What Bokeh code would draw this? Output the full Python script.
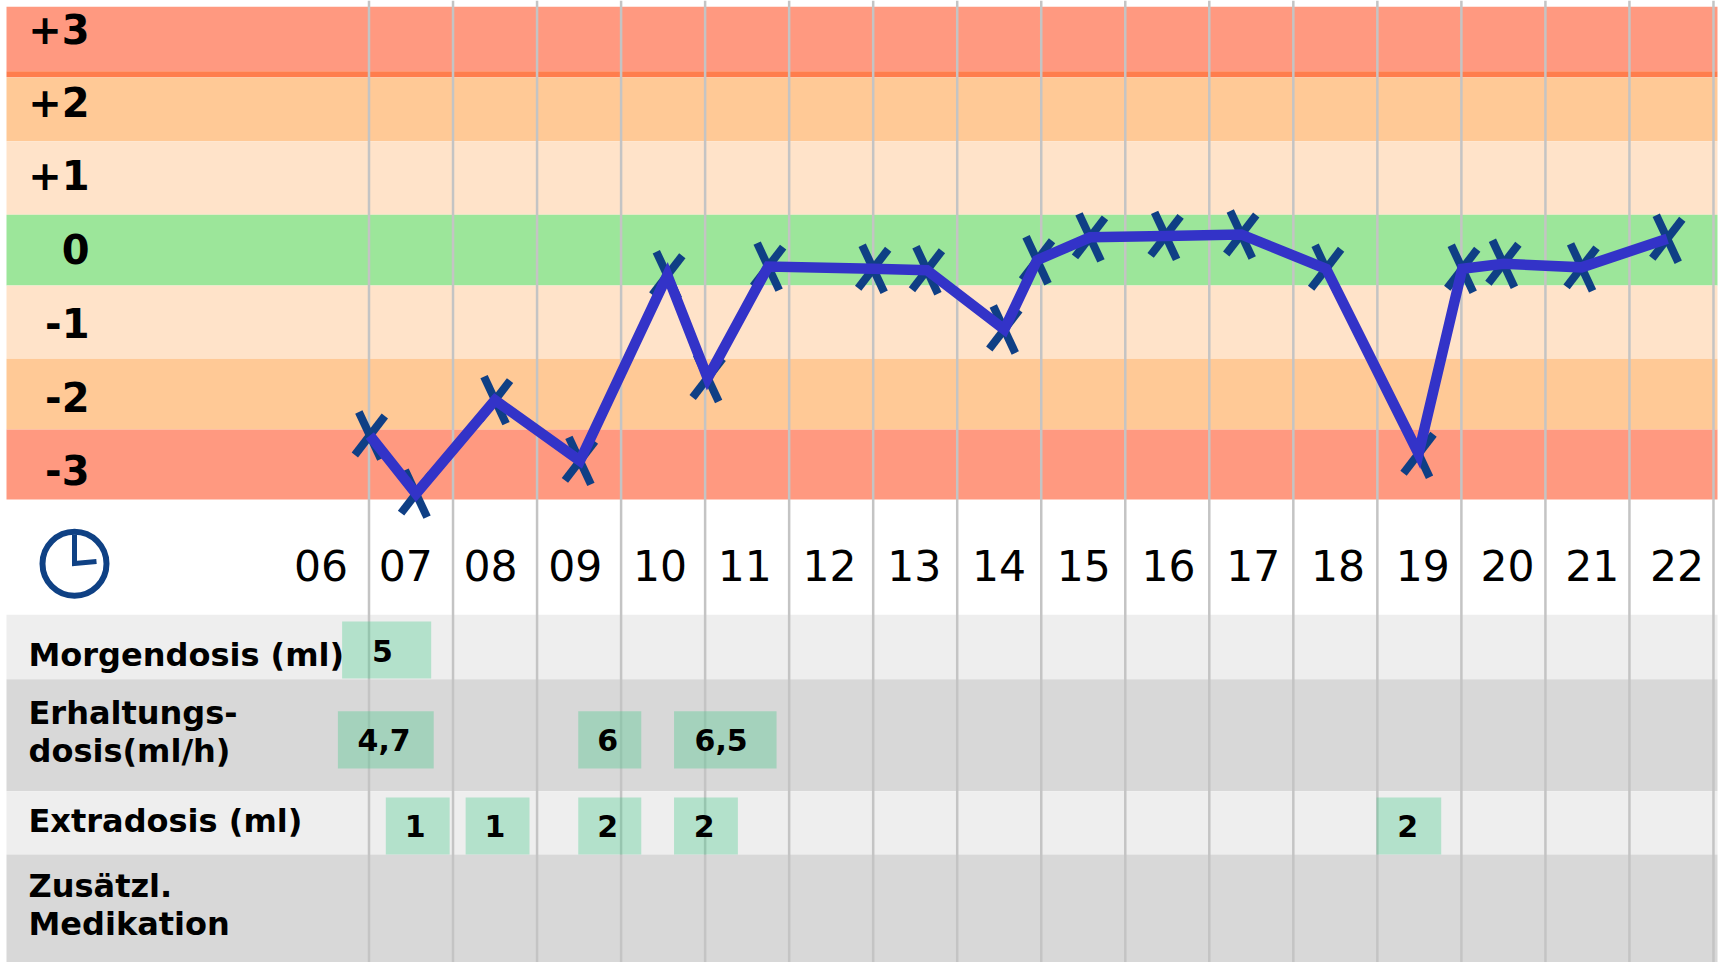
from bokeh.plotting import figure
from bokeh.models import Range1d
from bokeh.core.properties import value
from bokeh.embed import file_html
from bokeh.resources import INLINE

# ---------- data ----------
level_labels = ["+3", "+2", "+1", "0", "-1", "-2", "-3"]
level_values = [3, 2, 1, 0, -1, -2, -3]
band_tops = [3.41, 2.42, 1.527, 0.496, -0.494, -1.521, -2.51]
band_bottoms = [2.507, 1.527, 0.496, -0.494, -1.521, -2.51, -3.49]
band_colors = ["#ff9980", "#ffc996", "#ffe3c9", "#9ce69a", "#ffe3c9", "#ffc996", "#ff9980"]

hour_labels = ["06", "07", "08", "09", "10", "11", "12", "13", "14", "15", "16", "17", "18", "19", "20", "21", "22"]
hour_values = [6, 7, 8, 9, 10, 11, 12, 13, 14, 15, 16, 17, 18, 19, 20, 21, 22]
grid_hours = [7, 8, 9, 10, 11, 12, 13, 14, 15, 16, 17, 18, 19, 20, 21, 22, 23]

time_h = [7.01, 7.56, 8.50, 9.51, 10.55, 11.03, 11.75, 13.00, 13.64, 14.56, 14.95, 15.58, 16.48, 17.38, 18.39, 19.49, 20.01, 20.50, 21.43, 22.45]
level = [-2.595, -3.41, -2.10, -2.95, -0.35, -1.79, -0.23, -0.26, -0.28, -1.11, -0.14, 0.18, 0.20, 0.22, -0.26, -2.85, -0.26, -0.19, -0.24, 0.16]

morgen_vals = ["5"]
morgen_start = [6.68]
morgen_end = [7.74]
morgen_center = [7.16]
erhalt_vals = ["4,7", "6", "6,5"]
erhalt_start = [6.63, 9.49, 10.63]
erhalt_end = [7.77, 10.24, 11.85]
erhalt_center = [7.18, 9.84, 11.19]
extra_vals = ["1", "1", "2", "2", "2"]
extra_start = [7.20, 8.15, 9.49, 10.63, 18.99]
extra_end = [7.96, 8.91, 10.24, 11.39, 19.76]
extra_center = [7.55, 8.50, 9.84, 10.99, 19.36]

# ---------- layout ----------
W, H = 1725, 962
X_PER_H, X7 = 84.03, 368.5
Y_PER_L, Y0 = 71.4, 249.7


def xh(px):
    return 7 + (px - X7) / X_PER_H


def yl(py):
    return (Y0 - py) / Y_PER_L


p = figure(width=W, height=H, output_backend="svg", toolbar_location=None,
           x_range=Range1d(xh(0), xh(W)), y_range=Range1d(yl(H), yl(0)),
           min_border=0, outline_line_color=None,
           background_fill_color="white", border_fill_color="white")
p.axis.visible = False
p.grid.visible = False

XL, XR = xh(6), xh(1717)
# bands
p.quad(left=XL, right=XR, top=band_tops, bottom=band_bottoms, fill_color=band_colors, line_color=None)
p.quad(left=XL, right=XR, top=2.507, bottom=2.423, fill_color="#ff7d4d", line_color=None)

# table rows
row_px = [614.3, 678.7, 790.7, 854, 962]
row_col = ["#eeeeee", "#d8d8d8", "#eeeeee", "#d8d8d8"]
p.quad(left=XL, right=XR, top=[yl(v) for v in row_px[:-1]], bottom=[yl(v) for v in row_px[1:]],
       fill_color=row_col, line_color=None)

# grid
p.segment(x0=grid_hours, x1=grid_hours, y0=yl(0), y1=yl(H), line_color="#c4c4c4", line_width=2.5)

# dose boxes
BOX = dict(fill_color="#39c884", fill_alpha=0.32, line_color=None)
p.quad(left=morgen_start, right=morgen_end, top=yl(621), bottom=yl(678), **BOX)
p.quad(left=erhalt_start, right=erhalt_end, top=yl(710.7), bottom=yl(768), **BOX)
p.quad(left=extra_start, right=extra_end, top=yl(797), bottom=yl(854), **BOX)

# X markers (two arms of different slant)
ax, ay = 11 / X_PER_H, 23.5 / Y_PER_L
bx, by = 15 / X_PER_H, 19.5 / Y_PER_L
MK = dict(line_color="#0f3f85", line_width=8)
p.segment(x0=[t - ax for t in time_h], x1=[t + ax for t in time_h],
          y0=[v + ay for v in level], y1=[v - ay for v in level], **MK)
p.segment(x0=[t - bx for t in time_h], x1=[t + bx for t in time_h],
          y0=[v - by for v in level], y1=[v + by for v in level], **MK)

# series
p.line(time_h, level, line_color="#3333c8", line_width=10.5, line_join="miter")

BOLD = dict(text_font=value("DejaVu Sans"), text_font_style="bold", text_color="black", text_baseline="alphabetic")

# level labels
lab_base = [28.4, 101.4, 174.4, 248.7, 322.4, 396.4, 469.7]
p.text(x=[xh(89)] * 7, y=[yl(v) for v in lab_base], text=level_labels, text_align="right",
       text_font_size="40px", **BOLD)

# hour labels
p.text(x=[6.43 + (h - 6) * 1.0085 for h in hour_values], y=[yl(564.6)] * len(hour_values), text=hour_labels,
       text_align="center", text_font_size="42.5px", text_font=value("DejaVu Sans"),
       text_color="black", text_baseline="alphabetic")

# row labels
row_text = ["Morgendosis (ml)", "Erhaltungs-", "dosis(ml/h)", "Extradosis (ml)", "Zusätzl.", "Medikation"]
row_base = [654, 712, 750.7, 820, 885.7, 923.7]
p.text(x=[xh(28)] * 6, y=[yl(v) for v in row_base], text=row_text, text_align="left",
       text_font_size="32px", **BOLD)

# dose values
p.text(x=morgen_center, y=[yl(650.7)], text=morgen_vals, text_align="center", text_font_size="30px", **BOLD)
p.text(x=erhalt_center, y=[yl(739.7)] * 3, text=erhalt_vals, text_align="center", text_font_size="30px", **BOLD)
p.text(x=extra_center, y=[yl(825.5)] * 5, text=extra_vals, text_align="center", text_font_size="30px", **BOLD)

# clock icon
CLK = "#0f4184"
p.scatter([xh(74)], [yl(563.2)], marker="circle", size=64, fill_color=None, line_color=CLK, line_width=6)
p.line([xh(74), xh(74), xh(96)], [yl(534), yl(563), yl(561)], line_color=CLK, line_width=5, line_join="miter")

open("out.html", "w").write(file_html(p, INLINE))
